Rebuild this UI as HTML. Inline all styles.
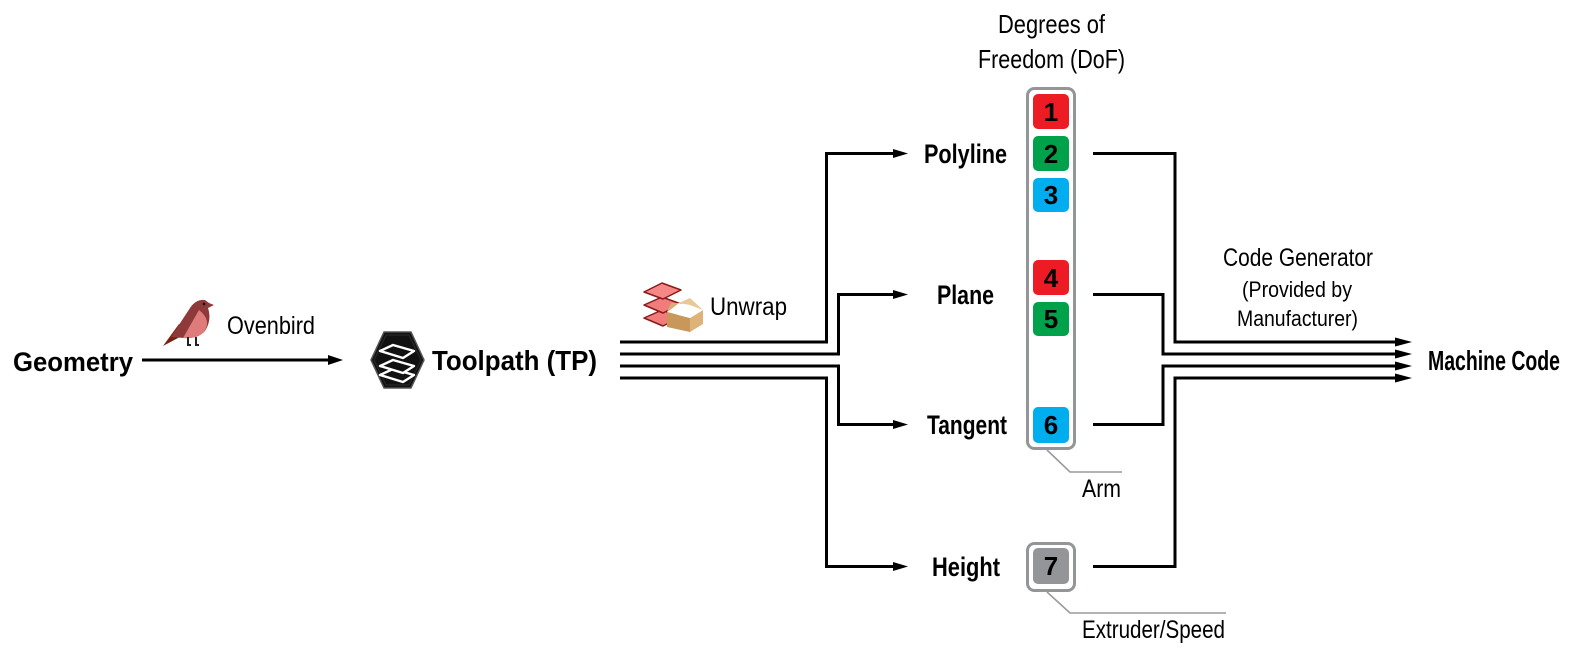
<!DOCTYPE html>
<html>
<head>
<meta charset="utf-8">
<style>
  html,body{margin:0;padding:0;background:#fff;}
  svg{display:block;}
  text{font-family:"Liberation Sans Narrow","Liberation Sans",sans-serif;fill:#000;}
  .b{font-weight:bold;}
</style>
</head>
<body>
<svg width="1583" height="656" viewBox="0 0 1583 656" xmlns="http://www.w3.org/2000/svg">
  <rect width="1583" height="656" fill="#fff"/>

  <!-- Geometry -->
  <text class="b" x="13" y="371" font-size="27" textLength="120" lengthAdjust="spacingAndGlyphs">Geometry</text>
  <line x1="142" y1="360" x2="330" y2="360" stroke="#000" stroke-width="3"/>
  <polygon points="343,360 328,355 328,365" fill="#000"/>

  <!-- Bird -->
  <g>
    <polygon points="163,346 179,324 191,331" fill="#7B1D10"/>
    <path d="M171 337 L190 308 Q196 299 205 300 L209 303 L214 305 L208 308 Q212 320 205 331 Q198 339 184 338 Z" fill="#8E3A3A"/>
    <path d="M199 310 Q212 320 204 332 Q197 339 183 338 Z" fill="#E07B7B"/>
    <circle cx="204" cy="304" r="1.4" fill="#111"/>
    <path d="M188 337 V345 H191 M196 337 V345 H199" stroke="#222" stroke-width="2" fill="none"/>
  </g>
  <text x="227" y="334" font-size="25" textLength="88" lengthAdjust="spacingAndGlyphs">Ovenbird</text>

  <!-- Toolpath icon -->
  <g>
    <polygon points="371,360 384,332 411,332 424,360 411,388 384,388" fill="#111" stroke="#555" stroke-width="1.5"/>
    <polygon points="374,360 386,335 409,335 421,360 409,385 386,385" fill="none" stroke="#2a2a2a" stroke-width="1"/>
    <g fill="#111" stroke="#fff" stroke-width="2.4" stroke-linejoin="round">
      <polygon points="393,369 414,375 403,382 380,375"/>
      <polygon points="393,360 414,366 403,373 380,366"/>
      <polygon points="393,345 414,351 403,358 380,351"/>
    </g>
  </g>
  <text class="b" x="432" y="370" font-size="28" textLength="165" lengthAdjust="spacingAndGlyphs">Toolpath (TP)</text>

  <!-- Unwrap icon -->
  <g stroke="#8B1A1A" stroke-width="1.5" stroke-linejoin="round">
    <polygon points="662,310 681,317 663,326 644,318" fill="#F07C7C"/>
    <polygon points="662,297 681,304 663,313 644,305" fill="#F07C7C"/>
    <polygon points="662,283 681,290 663,299 644,292" fill="#F58787"/>
  </g>
  <g>
    <polygon points="667,312 690,318 690,332 667,327" fill="#C8975A"/>
    <polygon points="690,318 703,310 703,324 690,332" fill="#DDB377"/>
    <polygon points="667,312 679,303 703,310 690,318" fill="#fff"/>
    <polygon points="679,303 690,298 703,310 690,305" fill="#E9C897"/>
    <polygon points="667,312 671,303 679,303" fill="#D8AE72"/>
  </g>
  <text x="710" y="315" font-size="25" textLength="77" lengthAdjust="spacingAndGlyphs">Unwrap</text>

  <!-- Left branch connectors -->
  <g stroke="#000" stroke-width="3" fill="none" stroke-linejoin="miter">
    <path d="M620 342 H826.5 V153.5 H895"/>
    <path d="M620 354 H838.5 V294.5 H895"/>
    <path d="M620 366 H838.5 V424.5 H895"/>
    <path d="M620 378 H826.5 V566.5 H895"/>
  </g>
  <g fill="#000">
    <polygon points="908,153.5 893,149 893,158"/>
    <polygon points="908,294.5 893,290 893,299"/>
    <polygon points="908,424.5 893,420 893,429"/>
    <polygon points="908,566.5 893,562 893,571"/>
  </g>

  <!-- Labels -->
  <text class="b" x="924" y="163" font-size="27" textLength="83" lengthAdjust="spacingAndGlyphs">Polyline</text>
  <text class="b" x="937" y="304" font-size="27" textLength="57" lengthAdjust="spacingAndGlyphs">Plane</text>
  <text class="b" x="927" y="434" font-size="27" textLength="80" lengthAdjust="spacingAndGlyphs">Tangent</text>
  <text class="b" x="932" y="576" font-size="27" textLength="68" lengthAdjust="spacingAndGlyphs">Height</text>

  <!-- DoF title -->
  <text x="998" y="33" font-size="26" textLength="107" lengthAdjust="spacingAndGlyphs">Degrees of</text>
  <text x="978" y="68" font-size="26" textLength="147" lengthAdjust="spacingAndGlyphs">Freedom (DoF)</text>

  <!-- DoF column -->
  <rect x="1027.5" y="88.5" width="47" height="360" rx="7" fill="#fff" stroke="#939598" stroke-width="3"/>
  <rect x="1033" y="94" width="36" height="35" rx="5" fill="#ED1C24"/>
  <rect x="1033" y="136" width="36" height="35" rx="5" fill="#00A14B"/>
  <rect x="1033" y="178" width="36" height="34" rx="5" fill="#00AEEF"/>
  <rect x="1033" y="260" width="36" height="35" rx="5" fill="#ED1C24"/>
  <rect x="1033" y="302" width="36" height="34" rx="5" fill="#00A14B"/>
  <rect x="1033" y="407" width="36" height="36" rx="5" fill="#00AEEF"/>
  <g class="b" font-size="26" text-anchor="middle">
    <text x="1051" y="121">1</text>
    <text x="1051" y="163">2</text>
    <text x="1051" y="204">3</text>
    <text x="1051" y="287">4</text>
    <text x="1051" y="328">5</text>
    <text x="1051" y="434">6</text>
  </g>

  <rect x="1027.5" y="543.5" width="47" height="47" rx="7" fill="#fff" stroke="#939598" stroke-width="3"/>
  <rect x="1033" y="548" width="36" height="36" rx="5" fill="#939598"/>
  <text class="b" x="1051" y="575" font-size="26" text-anchor="middle">7</text>

  <!-- Leader lines -->
  <g stroke="#9a9a9a" stroke-width="1.6" fill="none">
    <path d="M1047 450 L1070 472 H1122"/>
    <path d="M1047 592 L1070 613 H1226"/>
  </g>
  <text x="1082" y="497" font-size="25" textLength="39" lengthAdjust="spacingAndGlyphs">Arm</text>
  <text x="1082" y="638" font-size="25" textLength="143" lengthAdjust="spacingAndGlyphs">Extruder/Speed</text>

  <!-- Right connectors -->
  <g stroke="#000" stroke-width="3" fill="none">
    <path d="M1093 153.5 H1175 V342 H1398"/>
    <path d="M1093 294.5 H1163 V354 H1398"/>
    <path d="M1093 424.5 H1163 V366 H1398"/>
    <path d="M1093 566.5 H1175 V378 H1398"/>
  </g>
  <g fill="#000">
    <polygon points="1412,342 1395,337.5 1395,346.5"/>
    <polygon points="1412,354 1395,349.5 1395,358.5"/>
    <polygon points="1412,366 1395,361.5 1395,370.5"/>
    <polygon points="1412,378 1395,373.5 1395,382.5"/>
  </g>

  <!-- Code generator -->
  <text x="1223" y="266" font-size="25" textLength="150" lengthAdjust="spacingAndGlyphs">Code Generator</text>
  <text x="1242" y="297" font-size="22" textLength="110" lengthAdjust="spacingAndGlyphs">(Provided by</text>
  <text x="1237" y="326" font-size="22" textLength="121" lengthAdjust="spacingAndGlyphs">Manufacturer)</text>

  <text class="b" x="1428" y="370" font-size="28" textLength="132" lengthAdjust="spacingAndGlyphs">Machine Code</text>
</svg>
</body>
</html>
